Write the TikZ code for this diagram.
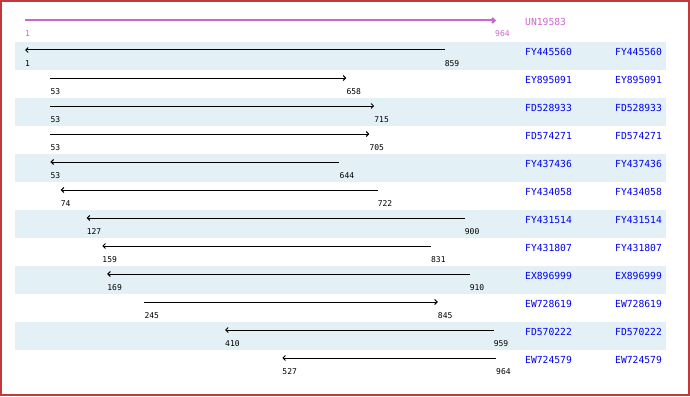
\documentclass[tikz,border=0pt]{standalone}
\usepackage{fontspec}
\setmonofont{DejaVu Sans Mono}
\usetikzlibrary{arrows.meta}
\definecolor{framered}{HTML}{C0393B}
\definecolor{band}{HTML}{E3F0F5}
\definecolor{mag}{HTML}{CC66CC}
\definecolor{nameblue}{HTML}{0000EE}
\begin{document}
\begin{tikzpicture}[x=1pt,y=-1pt,
  arr/.style={line width=1pt,arrows={-Straight Barb[length=2.5pt,width=5pt]}},
  arrl/.style={line width=1pt,arrows={Straight Barb[length=2.5pt,width=5pt]-}},
  num/.style={font=\ttfamily\fontsize{8}{9}\selectfont,inner sep=0pt,anchor=west},
  nm/.style={font=\ttfamily\fontsize{9.7}{10}\selectfont,inner sep=0pt,anchor=west,text=nameblue}]
\useasboundingbox (0,0) rectangle (690,396);
\fill[white] (0,0) rectangle (690,396);
\foreach \k in {0,2,...,10}{
  \fill[band] (15,{42+28*\k}) rectangle (666,{70+28*\k});
}
% header
\coordinate (hs) at (25,20.5);
\coordinate (he) at (496,20.5);
\draw[mag,line width=2pt,arrows={-Straight Barb[length=2.5pt,width=5pt]}] (hs) -- (he);
\node[num,text=mag] (hl1) at (25,34) {1};
\node[num,text=mag] (hl2) at (495,34) {964};
\node[nm,text=mag] (hn) at (525,22) {UN19583};
\foreach \nmx/\s/\e/\st [count=\k from 0] in {
  FY445560/1/859/arrl, EY895091/53/658/arr, FD528933/53/715/arr,
  FD574271/53/705/arr, FY437436/53/644/arrl, FY434058/74/722/arrl,
  FY431514/127/900/arrl, FY431807/159/831/arrl, EX896999/169/910/arrl,
  EW728619/245/845/arr, FD570222/410/959/arrl, EW724579/527/964/arrl}{
  \pgfmathsetmacro\ly{50+28*\k}
  \pgfmathsetmacro\xs{25+(\s-1)*0.489097}
  \pgfmathsetmacro\xe{25+(\e-1)*0.489097}
  \coordinate (s\k) at (\xs,\ly);
  \coordinate (e\k) at (\xe,\ly);
  \draw[\st] (s\k) -- (e\k);
  \node[num] (ls\k) at (\xs,\ly+13.5) {\s};
  \node[num] (le\k) at (\xe,\ly+13.5) {\e};
  \node[nm] (na\k) at (525,\ly+1.5) {\nmx};
  \node[nm] (nb\k) at (615,\ly+1.5) {\nmx};
}
\draw[framered,line width=2pt] (1,1) rectangle (688.5,395);
\end{tikzpicture}
\end{document}
